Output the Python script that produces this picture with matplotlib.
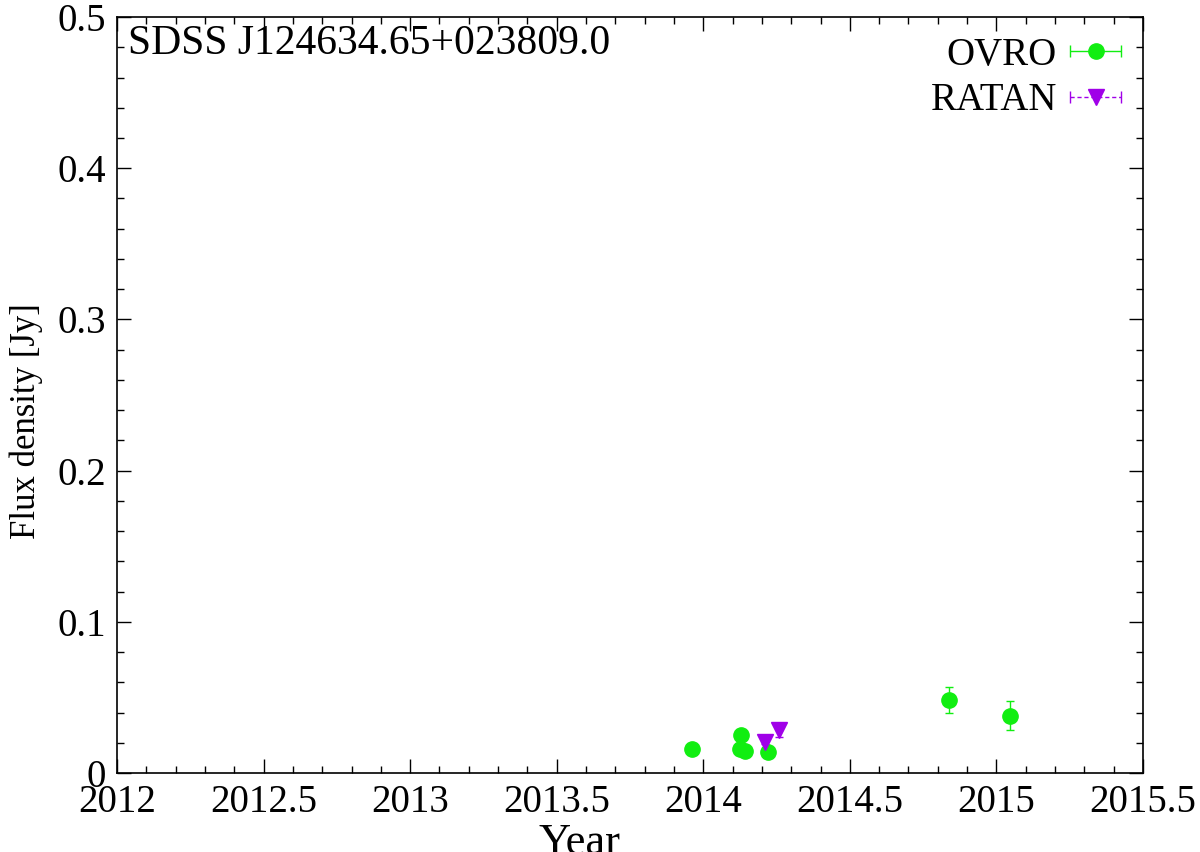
import numpy as np
import matplotlib
matplotlib.use("Agg")
import matplotlib.pyplot as plt
from matplotlib.ticker import MultipleLocator
from matplotlib.legend_handler import HandlerErrorbar

# OVRO points (year, flux, error)
ovro_year = [2013.961, 2014.129, 2014.124, 2014.143, 2014.220, 2014.838, 2015.047]
ovro_flux = [0.0157, 0.0252, 0.0157, 0.0144, 0.0141, 0.0483, 0.0380]
ovro_err = [0.0010, 0.0012, 0.0010, 0.0010, 0.0012, 0.0085, 0.0095]

# RATAN points
ratan_year = [2014.212, 2014.259]
ratan_flux = [0.0207, 0.0285]
ratan_err = [0.0015, 0.0045]

title = "SDSS J124634.65+023809.0"

green = "#11ee11"
violet = "#a000e8"

plt.rcParams['font.family'] = ['Liberation Serif', 'DejaVu Serif']
plt.rcParams['font.size'] = 28

fig = plt.figure(figsize=(12, 8.52), dpi=100)
ax = fig.add_axes([0.0975, 0.0927, 0.855, 0.8873])

ax.errorbar(ovro_year, ovro_flux, yerr=ovro_err, fmt='o', color=green,
            ms=11, elinewidth=1, capsize=3, capthick=1, zorder=3)
ax.errorbar(ratan_year, ratan_flux, yerr=ratan_err, fmt='v', color=violet,
            ms=11, elinewidth=1, capsize=3, capthick=1, zorder=3)

# legend proxies in gnuplot style (horizontal bar with caps)
p1 = ax.errorbar([np.nan], [np.nan], xerr=[1], fmt='o', color=green, ms=11,
                 elinewidth=1, capsize=4, capthick=1, label="OVRO")
p2 = ax.errorbar([np.nan], [np.nan], xerr=[1], fmt='v', color=violet, ms=11,
                 elinewidth=1, capsize=4, capthick=1, label="RATAN")
p2[2][0].set_linestyle((0, (3, 2)))

leg = ax.legend(handles=[p1, p2], loc='upper right', frameon=False,
                markerfirst=False, handlelength=1.4, handletextpad=0.3,
                bbox_to_anchor=(1.007, 1.01), borderpad=0.2,
                labelspacing=0.22,
                handler_map={type(p1): HandlerErrorbar(xerr_size=0.65)})

ax.set_xlim(2012, 2015.5)
ax.set_ylim(0, 0.5)
ax.xaxis.set_minor_locator(MultipleLocator(0.1))
ax.yaxis.set_minor_locator(MultipleLocator(0.02))
ax.set_xticks([2012, 2012.5, 2013, 2013.5, 2014, 2014.5, 2015, 2015.5])
ax.set_xticklabels(["2012", "2012.5", "2013", "2013.5", "2014", "2014.5", "2015", "2015.5"])
ax.set_yticks([0, 0.1, 0.2, 0.3, 0.4, 0.5])
ax.set_yticklabels(["0", "0.1", "0.2", "0.3", "0.4", "0.5"])

ax.tick_params(which='both', direction='in', top=True, right=True, width=1)
ax.tick_params(which='major', length=10)
ax.tick_params(axis='x', which='major', pad=8)
ax.tick_params(axis='y', which='major', pad=8)
ax.tick_params(which='minor', length=5)
for s in ax.spines.values():
    s.set_linewidth(1.2)

ax.set_xlabel("Year", fontsize=32)
ax.xaxis.set_label_coords(0.451, -0.066)
ax.set_ylabel("Flux density [Jy]", fontsize=25)
ax.yaxis.set_label_coords(-0.088, 0.466)
ax.yaxis.label.set_va('center')
ax.text(0.0107, 0.99, title, transform=ax.transAxes, ha='left', va='top',
        fontsize=30)

fig.savefig("out.png", dpi=100)
